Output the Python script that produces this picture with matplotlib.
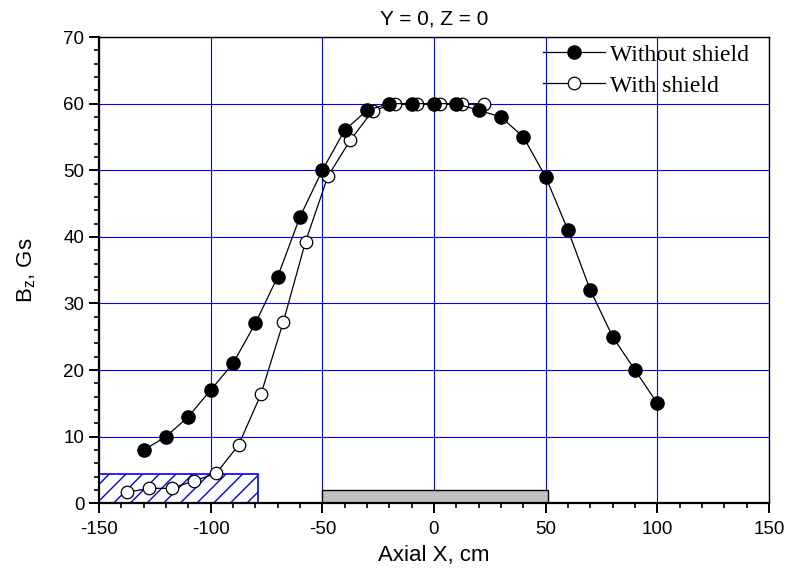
import numpy as np
import matplotlib
matplotlib.use("Agg")
import matplotlib.pyplot as plt
from matplotlib.patches import Rectangle
from matplotlib.ticker import MultipleLocator

plt.rcParams['font.family'] = ['Liberation Sans', 'DejaVu Sans']
plt.rcParams['mathtext.default'] = 'regular'
plt.rcParams['axes.unicode_minus'] = False
plt.rcParams['hatch.linewidth'] = 1.0

# field without shield
x_no = [-130, -120, -110, -100, -90, -80, -70, -60, -50, -40, -30, -20,
        -10, 0, 10, 20, 30, 40, 50, 60, 70, 80, 90, 100]
b_no = [8, 10, 13, 17, 21, 27, 34, 43, 50, 56, 59, 60,
        60, 60, 60, 59, 58, 55, 49, 41, 32, 25, 20, 15]

# field with shield
x_sh = [-137.5, -127.5, -117.5, -107.5, -97.5, -87.5, -77.5, -67.5, -57.5,
        -47.5, -37.5, -27.5, -17.5, -7.5, 2.5, 12.5, 22.5]
b_sh = [1.65, 2.25, 2.25, 3.35, 4.5, 8.75, 16.35, 27.2, 39.3,
        49.1, 54.5, 58.9, 60, 60, 60, 60, 60]

# shield block and solenoid block (x0, x1, height)
shield = (-150, -79, 4.35)
solenoid = (-50, 51, 2.0)

fig = plt.figure(figsize=(7.88, 5.73), dpi=100)
ax = fig.add_axes([0.1256, 0.1216, 0.8503, 0.8138])

ax.grid(True, which='major', color='#0000ff', linewidth=0.8, zorder=0)
ax.set_axisbelow(True)

ax.add_patch(Rectangle((shield[0], 0), shield[1] - shield[0], shield[2],
                       facecolor='white', edgecolor='#0000ff', hatch='//',
                       linewidth=1.2, zorder=2))
ax.add_patch(Rectangle((solenoid[0], 0), solenoid[1] - solenoid[0], solenoid[2],
                       facecolor='#c0c0c0', edgecolor='black',
                       linewidth=1.0, zorder=2))

ax.plot(x_no, b_no, '-o', color='black', lw=0.9, ms=9.5,
        markerfacecolor='black', label='Without shield', zorder=4)
ax.plot(x_sh, b_sh, '-o', color='black', lw=0.9, ms=9,
        markerfacecolor='white', markeredgewidth=0.9, label='With shield', zorder=3)

ax.set_xlim(-150, 150)
ax.set_ylim(0, 70)
ax.xaxis.set_major_locator(MultipleLocator(50))
ax.xaxis.set_minor_locator(MultipleLocator(10))
ax.yaxis.set_major_locator(MultipleLocator(10))
ax.yaxis.set_minor_locator(MultipleLocator(2))
ax.tick_params(which='major', direction='out', length=7, width=1.4, labelsize=13.5)
ax.tick_params(axis='x', which='major', pad=6)
ax.tick_params(which='minor', direction='out', length=3.8, width=1.2)

for s in ['left', 'bottom']:
    ax.spines[s].set_linewidth(1.6)
for s in ['top', 'right']:
    ax.spines[s].set_linewidth(1.0)

ax.set_xlabel('Axial X, cm', fontsize=16, labelpad=5)
ax.set_ylabel('B$_z$, Gs', fontsize=16, labelpad=18)
ax.set_title('Y = 0, Z = 0', fontsize=15, pad=9)

ax.legend(loc='upper right', bbox_to_anchor=(0.992, 1.015), frameon=False,
          numpoints=1, handlelength=2.6, handletextpad=0.25, labelspacing=0.4,
          borderaxespad=0.2,
          prop={'family': 'Liberation Serif', 'size': 17})

fig.savefig('out.png', dpi=100)
